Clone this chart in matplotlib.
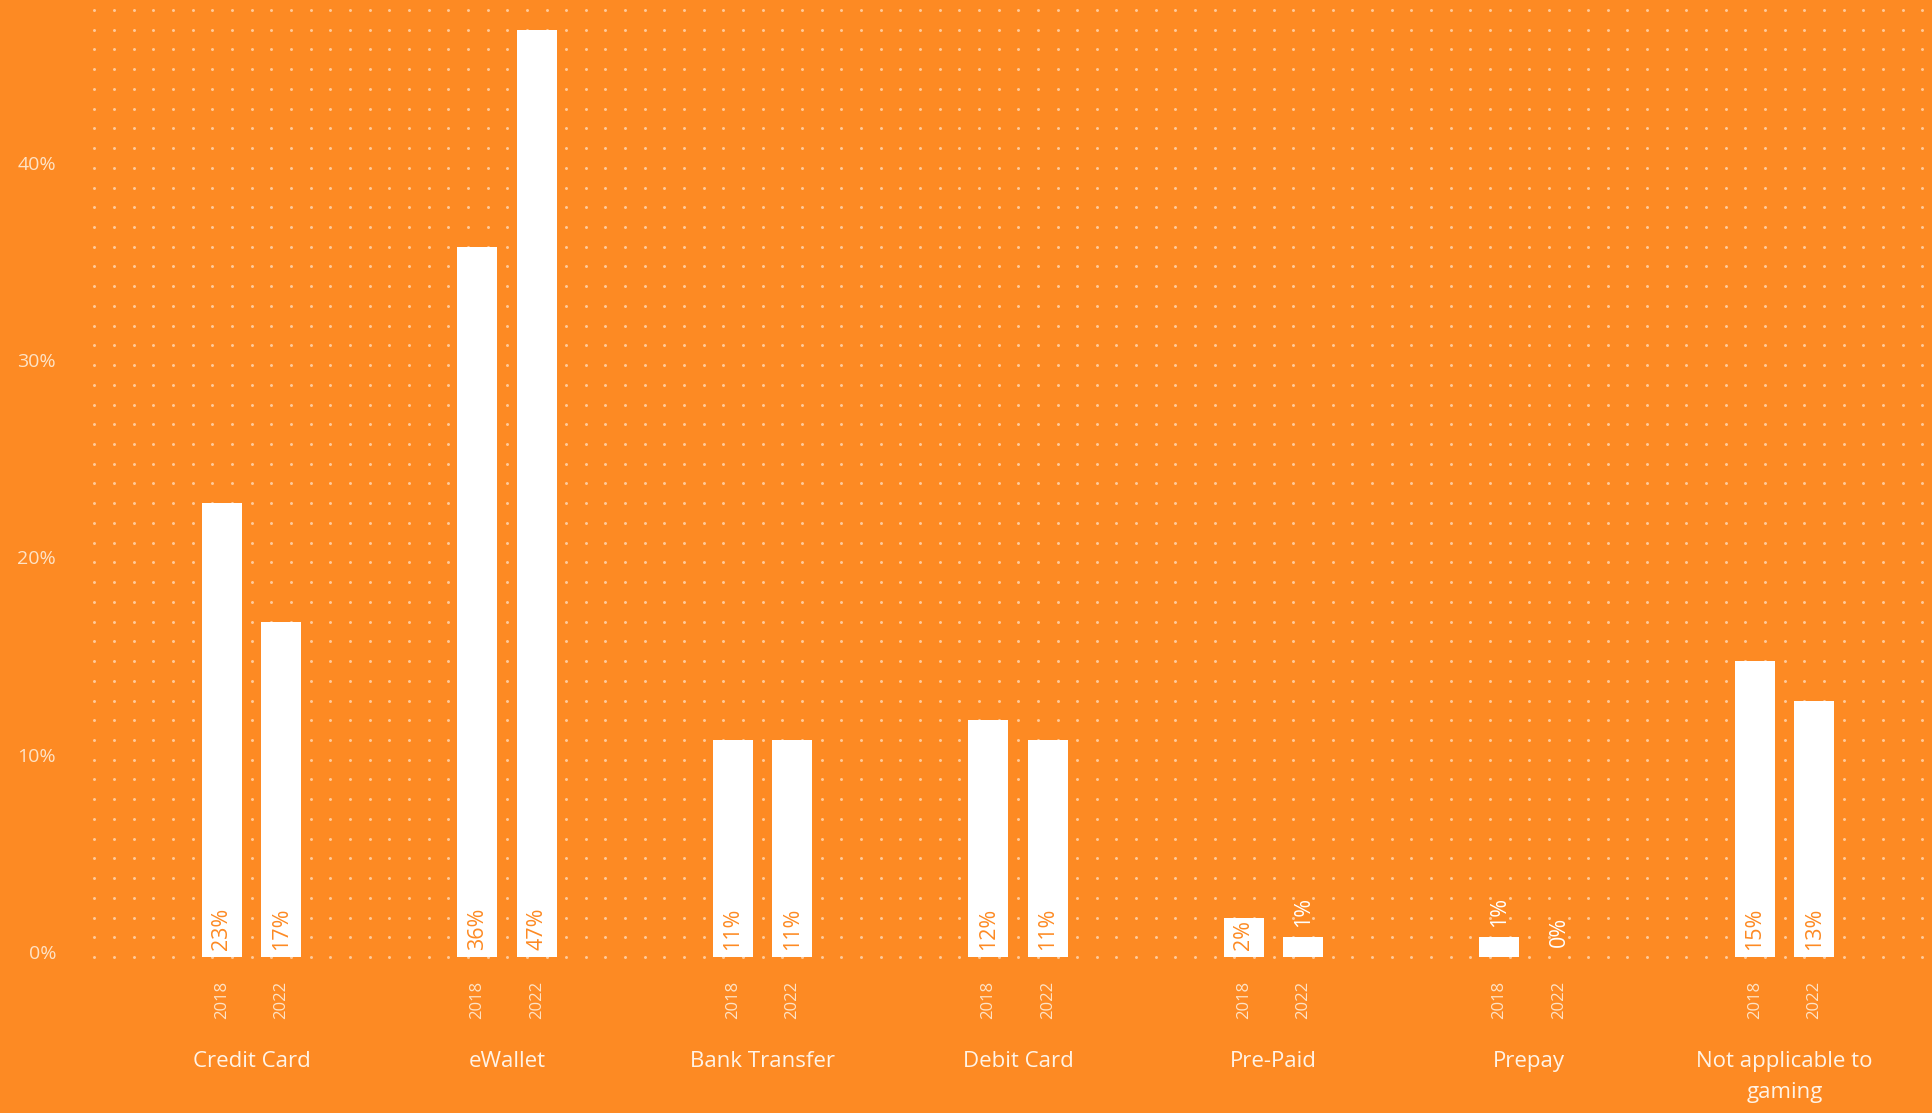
import numpy as np
import matplotlib
matplotlib.use("Agg")
import matplotlib.pyplot as plt
import matplotlib.transforms as mtransforms


categories = [
    "Credit Card",
    "eWallet",
    "Bank Transfer",
    "Debit Card",
    "Pre-Paid",
    "Prepay",
    "Not applicable to\ngaming",
]
years = ["2018", "2022"]
share_2018 = [23, 36, 11, 12, 2, 1, 15]
share_2022 = [17, 47, 11, 11, 1, 0, 13]
y_ticks = [0, 10, 20, 30, 40]

BG = "#fd8a23"
DOT = "#ffca9a"
PALE = "#fee3c6"
WHITE = "#ffffff"

W, H = 1933, 1113
DPI = 100


def graph_generator():
    plt.rcParams["font.family"] = ["Open Sans", "DejaVu Sans"]

    fig = plt.figure(figsize=(W / DPI, H / DPI), dpi=DPI, facecolor=BG)

    # axes box in pixels: group centres 255.5 px apart, 1 % = 19.73 px
    left_px, base_px = 70, 957
    x0, dx = 251.7, 255.5
    py = 19.73
    ax = fig.add_axes([left_px / W, (H - base_px) / H, (W - left_px) / W, base_px / H])
    ax.set_facecolor(BG)
    ax.set_xlim((left_px - x0) / dx, (W - x0) / dx)
    ax.set_ylim(0, base_px / py)
    for s in ax.spines.values():
        s.set_visible(False)

    # dotted background grid: 13 columns per group, one row per percent
    cols = np.arange(-8, 6 * 13 + 8) / 13
    rows = np.arange(0, 49)
    gx, gy = np.meshgrid(cols, rows)
    ax.scatter(gx.ravel(), gy.ravel(), s=4.5, color=DOT, linewidths=0, zorder=1, clip_on=False)

    idx = np.arange(len(categories))
    off = 29.75 / dx
    width = 40 / dx
    pos = {"2018": idx - off, "2022": idx + off}
    vals = {"2018": share_2018, "2022": share_2022}

    for yr in years:
        ax.bar(pos[yr], vals[yr], width=width, color=WHITE, linewidth=0, zorder=2)
        for x, v in zip(pos[yr], vals[yr]):
            if v >= 2:
                ax.annotate(f"{v}%", (x, 0), xytext=(0, 7), textcoords="offset pixels",
                            rotation=90, ha="center", va="bottom", color=BG,
                            fontsize=15.5, zorder=3)
            else:
                ax.annotate(f"{v}%", (x, v), xytext=(0, 10), textcoords="offset pixels",
                            rotation=90, ha="center", va="bottom", color=WHITE,
                            fontsize=15.5, zorder=3)

    # y axis
    ax.set_yticks(y_ticks)
    ax.set_yticklabels([f"{t}%" for t in y_ticks])
    ax.tick_params(axis="y", length=0, pad=10, labelsize=14, labelcolor=PALE)
    shift = mtransforms.ScaledTranslation(0, 5 / DPI, fig.dpi_scale_trans)
    for lbl in ax.get_yticklabels():
        lbl.set_transform(lbl.get_transform() + shift)

    # categories as major ticks, years as minor ticks
    ax.set_xticks(idx)
    ax.set_xticklabels(categories, linespacing=1.6)
    ax.set_xticks(np.sort(np.concatenate([pos["2018"], pos["2022"]])), minor=True)
    ax.set_xticklabels(years * len(categories), minor=True, rotation=90)
    ax.tick_params(axis="x", which="major", length=0, pad=68, labelsize=16, labelcolor="#fff3e6")
    ax.tick_params(axis="x", which="minor", length=0, pad=17, labelsize=12, labelcolor=PALE)

    fig.savefig("out.png", dpi=DPI, facecolor=BG)


def main():
    graph_generator()


if __name__ == "__main__":
    main()
